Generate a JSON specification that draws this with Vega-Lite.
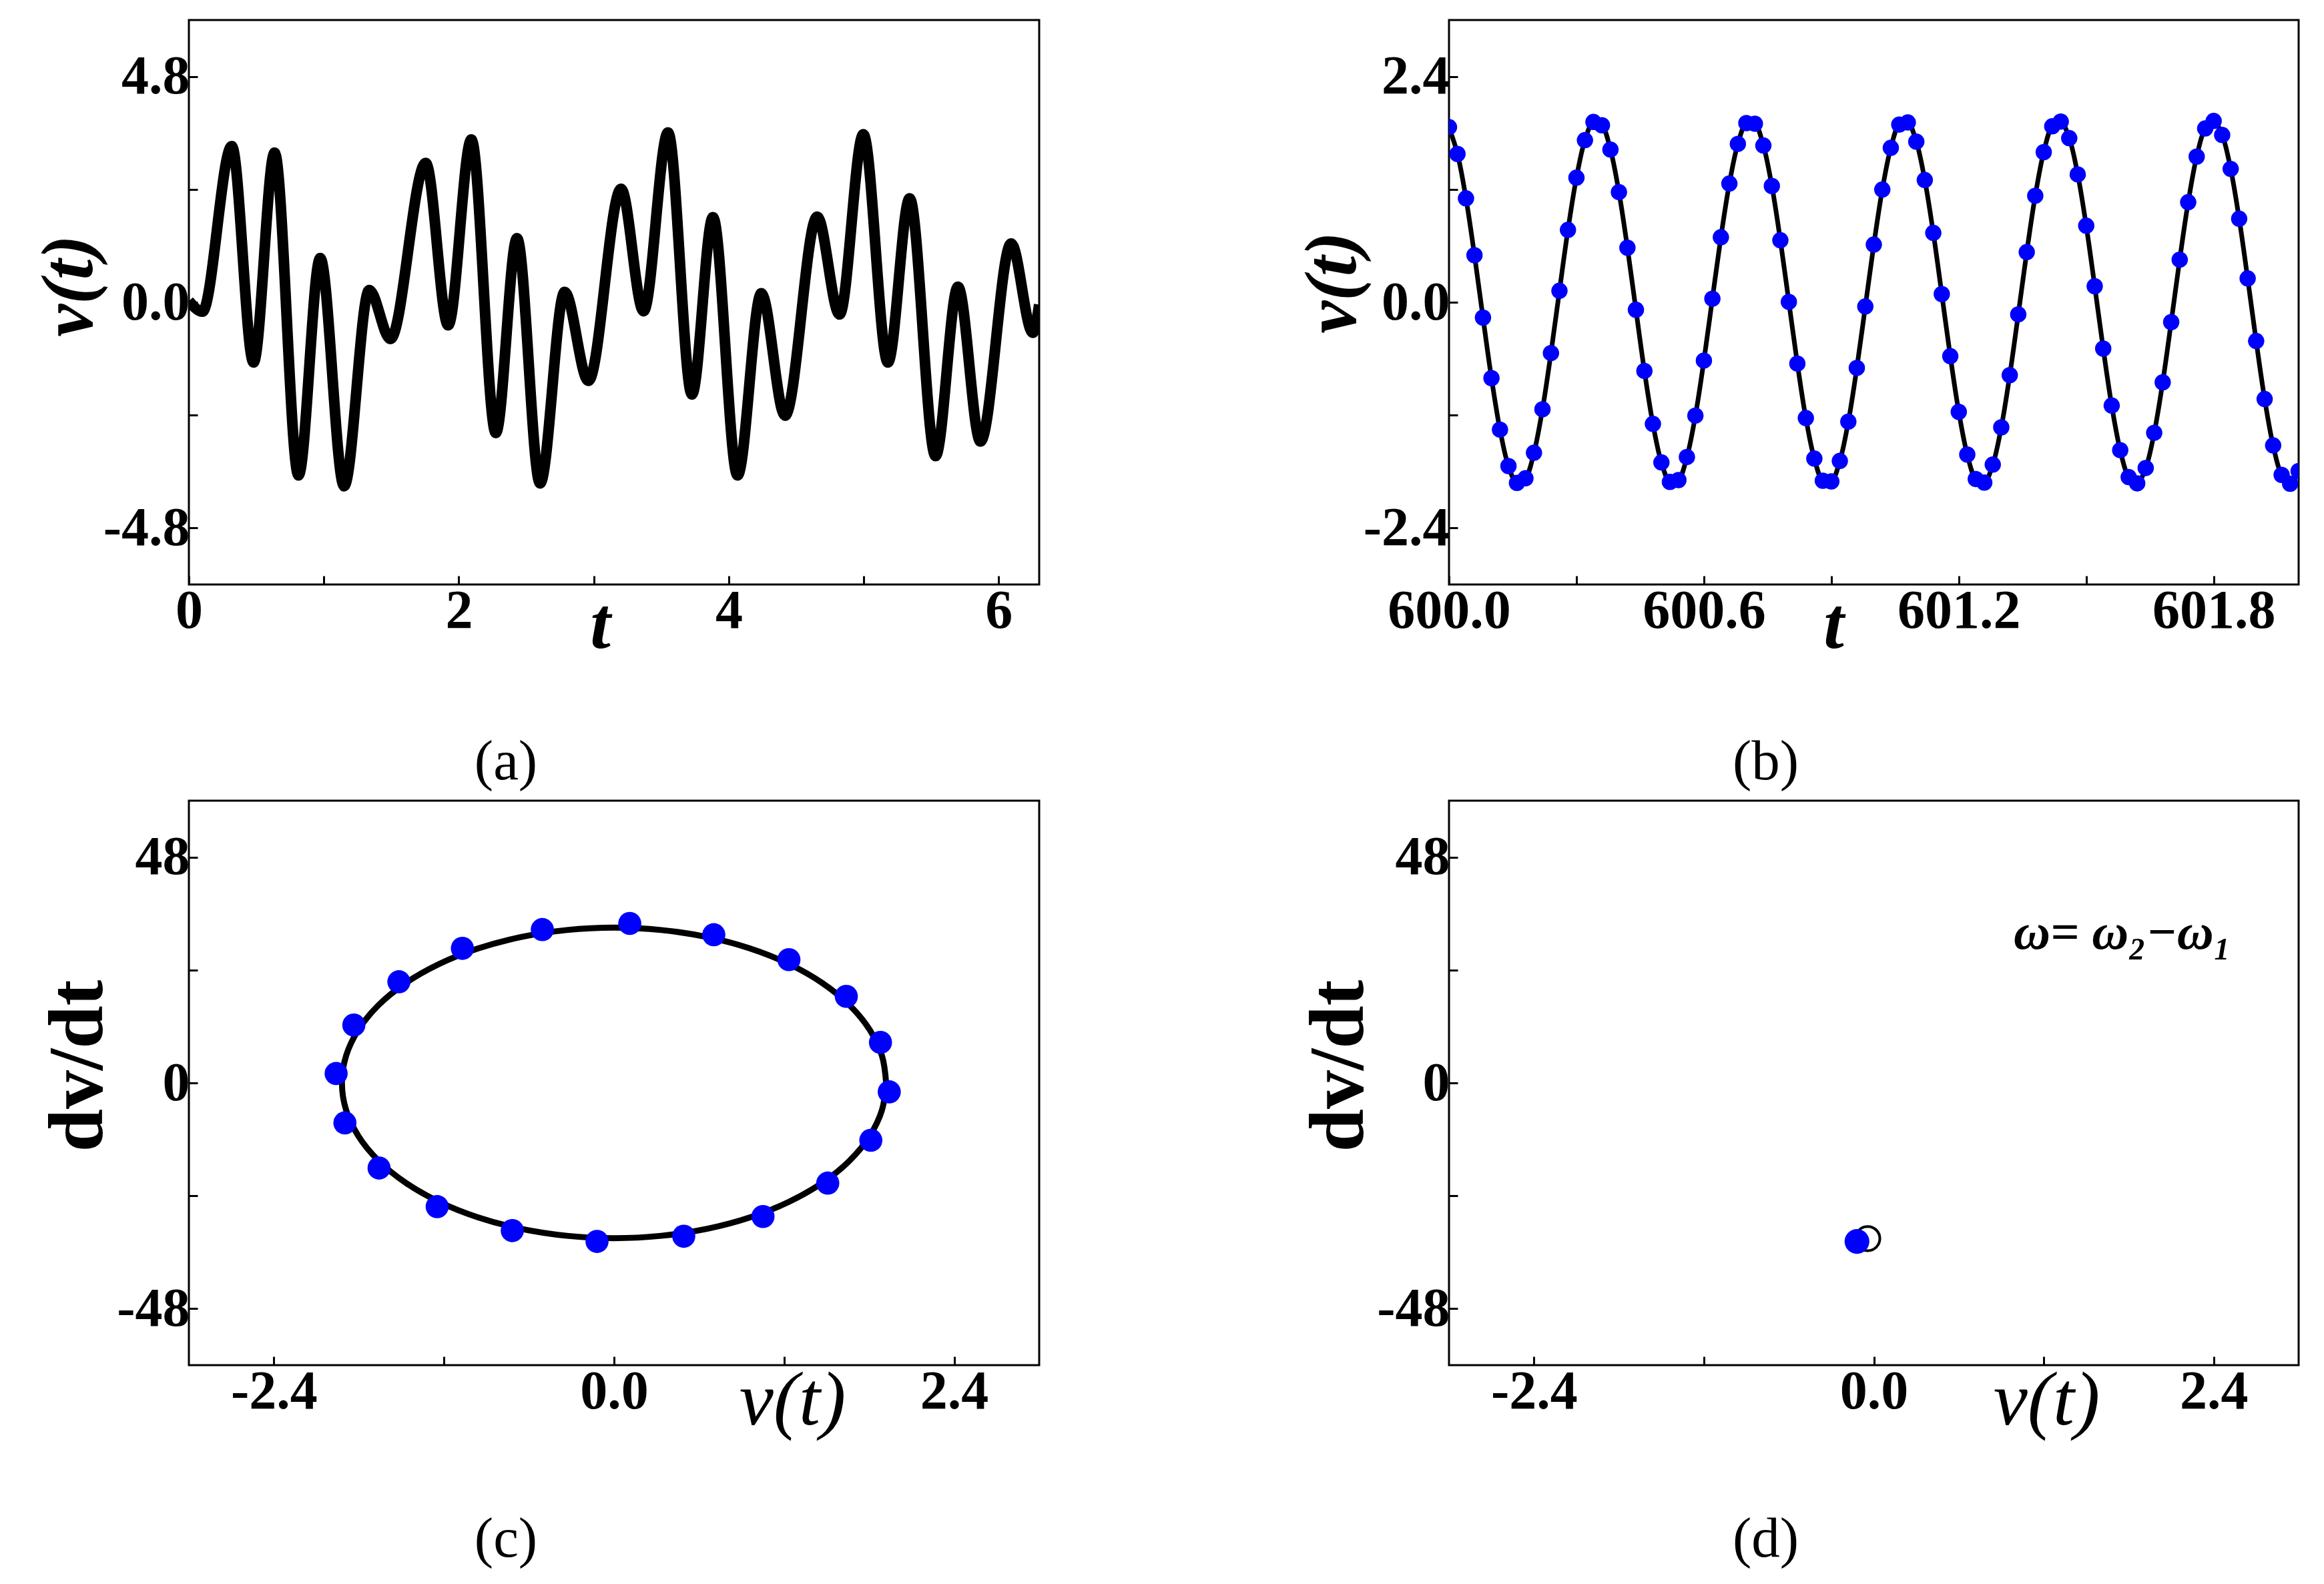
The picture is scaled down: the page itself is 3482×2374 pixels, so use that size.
{
  "$schema": "https://vega.github.io/schema/vega-lite/v6.json",
  "autosize": {"type": "none"},
  "padding": {"left": 283, "top": 30, "right": 3199, "bottom": 2344},
  "background": "white",
  "columns": 2,
  "spacing": {"row": 324, "column": 614},
  "bounds": "flush",
  "config": {
    "view": {"stroke": "black", "strokeWidth": 3},
    "font": "Liberation Serif",
    "axis": {
      "domain": false, "grid": false, "ticks": true, "tickColor": "black", "tickWidth": 3, "tickSize": -13,
      "labelFont": "Liberation Serif", "labelFontWeight": "bold", "labelFontSize": 82, "labelColor": "black",
      "labelPadding": 12, "labelFlush": false, "labelOverlap": false, "labelBound": false, "labelLimit": 1000,
      "titleColor": "black", "titleFont": "Liberation Serif", "titleLimit": 1000
    },
    "title": {"font": "Liberation Serif", "fontSize": 85, "fontWeight": "normal", "color": "black"}
  },
  "datasets": {
    "a": [
      {"t": 0, "v": 0.03}, {"t": 0.1, "v": -0.2}, {"t": 0.318, "v": 3.32}, {"t": 0.479, "v": -1.28},
      {"t": 0.635, "v": 3.18}, {"t": 0.812, "v": -3.68}, {"t": 0.973, "v": 0.94}, {"t": 1.15, "v": -3.91},
      {"t": 1.336, "v": 0.26}, {"t": 1.493, "v": -0.78}, {"t": 1.755, "v": 2.96}, {"t": 1.921, "v": -0.49},
      {"t": 2.093, "v": 3.46}, {"t": 2.274, "v": -2.78}, {"t": 2.431, "v": 1.36}, {"t": 2.602, "v": -3.85},
      {"t": 2.784, "v": 0.22}, {"t": 2.96, "v": -1.67}, {"t": 3.202, "v": 2.41}, {"t": 3.369, "v": -0.19},
      {"t": 3.55, "v": 3.61}, {"t": 3.727, "v": -1.96}, {"t": 3.883, "v": 1.81}, {"t": 4.065, "v": -3.68},
      {"t": 4.241, "v": 0.19}, {"t": 4.417, "v": -2.41}, {"t": 4.655, "v": 1.82}, {"t": 4.821, "v": -0.26},
      {"t": 4.997, "v": 3.57}, {"t": 5.179, "v": -1.28}, {"t": 5.34, "v": 2.21}, {"t": 5.532, "v": -3.27},
      {"t": 5.698, "v": 0.33}, {"t": 5.865, "v": -2.96}, {"t": 6.092, "v": 1.25}, {"t": 6.253, "v": -0.65},
      {"t": 6.3, "v": -0.05}
    ],
    "b": [
      {"t": 600.00, "v": 1.861}, {"t": 600.02, "v": 1.576}, {"t": 600.04, "v": 1.104}, {"t": 600.06, "v": 0.500},
      {"t": 600.08, "v": -0.163}, {"t": 600.10, "v": -0.807}, {"t": 600.12, "v": -1.354}, {"t": 600.14, "v": -1.741},
      {"t": 600.16, "v": -1.921}, {"t": 600.18, "v": -1.871}, {"t": 600.20, "v": -1.600}, {"t": 600.22, "v": -1.138},
      {"t": 600.24, "v": -0.540}, {"t": 600.26, "v": 0.122}, {"t": 600.28, "v": 0.769}, {"t": 600.30, "v": 1.324},
      {"t": 600.32, "v": 1.723}, {"t": 600.34, "v": 1.916}, {"t": 600.36, "v": 1.881}, {"t": 600.38, "v": 1.623},
      {"t": 600.40, "v": 1.171}, {"t": 600.42, "v": 0.580}, {"t": 600.44, "v": -0.080}, {"t": 600.46, "v": -0.730},
      {"t": 600.48, "v": -1.293}, {"t": 600.50, "v": -1.703}, {"t": 600.52, "v": -1.910}, {"t": 600.54, "v": -1.890},
      {"t": 600.56, "v": -1.645}, {"t": 600.58, "v": -1.205}, {"t": 600.60, "v": -0.620}, {"t": 600.62, "v": 0.038},
      {"t": 600.64, "v": 0.691}, {"t": 600.66, "v": 1.262}, {"t": 600.68, "v": 1.683}, {"t": 600.70, "v": 1.904},
      {"t": 600.72, "v": 1.898}, {"t": 600.74, "v": 1.666}, {"t": 600.76, "v": 1.236}, {"t": 600.78, "v": 0.659},
      {"t": 600.80, "v": 0.004}, {"t": 600.82, "v": -0.652}, {"t": 600.84, "v": -1.231}, {"t": 600.86, "v": -1.662},
      {"t": 600.88, "v": -1.897}, {"t": 600.90, "v": -1.905}, {"t": 600.92, "v": -1.687}, {"t": 600.94, "v": -1.269},
      {"t": 600.96, "v": -0.698}, {"t": 600.98, "v": -0.045}, {"t": 601.00, "v": 0.613}, {"t": 601.02, "v": 1.198},
      {"t": 601.04, "v": 1.641}, {"t": 601.06, "v": 1.889}, {"t": 601.08, "v": 1.911}, {"t": 601.10, "v": 1.707},
      {"t": 601.12, "v": 1.299}, {"t": 601.14, "v": 0.737}, {"t": 601.16, "v": 0.087}, {"t": 601.18, "v": -0.573},
      {"t": 601.20, "v": -1.165}, {"t": 601.22, "v": -1.619}, {"t": 601.24, "v": -1.879}, {"t": 601.26, "v": -1.917},
      {"t": 601.28, "v": -1.726}, {"t": 601.30, "v": -1.330}, {"t": 601.32, "v": -0.775}, {"t": 601.34, "v": -0.129},
      {"t": 601.36, "v": 0.533}, {"t": 601.38, "v": 1.132}, {"t": 601.40, "v": 1.596}, {"t": 601.42, "v": 1.870},
      {"t": 601.44, "v": 1.921}, {"t": 601.46, "v": 1.744}, {"t": 601.48, "v": 1.359}, {"t": 601.50, "v": 0.813},
      {"t": 601.52, "v": 0.170}, {"t": 601.54, "v": -0.493}, {"t": 601.56, "v": -1.098}, {"t": 601.58, "v": -1.572},
      {"t": 601.60, "v": -1.859}, {"t": 601.62, "v": -1.925}, {"t": 601.64, "v": -1.762}, {"t": 601.66, "v": -1.388},
      {"t": 601.68, "v": -0.851}, {"t": 601.70, "v": -0.211}, {"t": 601.72, "v": 0.453}, {"t": 601.74, "v": 1.063},
      {"t": 601.76, "v": 1.548}, {"t": 601.78, "v": 1.847}, {"t": 601.80, "v": 1.927}, {"t": 601.82, "v": 1.778},
      {"t": 601.84, "v": 1.417}, {"t": 601.86, "v": 0.888}, {"t": 601.88, "v": 0.253}, {"t": 601.90, "v": -0.412},
      {"t": 601.92, "v": -1.029}, {"t": 601.94, "v": -1.522}, {"t": 601.96, "v": -1.835}, {"t": 601.98, "v": -1.929},
      {"t": 602.00, "v": -1.794}
    ],
    "ell": [
      {"i": 0, "v": 1.920, "dv": 0}, {"i": 1, "v": 1.891, "dv": 5.73}, {"i": 2, "v": 1.804, "dv": 11.29},
      {"i": 3, "v": 1.663, "dv": 16.50}, {"i": 4, "v": 1.471, "dv": 21.21}, {"i": 5, "v": 1.234, "dv": 25.28},
      {"i": 6, "v": 0.960, "dv": 28.58}, {"i": 7, "v": 0.657, "dv": 31.01}, {"i": 8, "v": 0.333, "dv": 32.50},
      {"i": 9, "v": 0, "dv": 33.0}, {"i": 10, "v": -0.333, "dv": 32.50}, {"i": 11, "v": -0.657, "dv": 31.01},
      {"i": 12, "v": -0.960, "dv": 28.58}, {"i": 13, "v": -1.234, "dv": 25.28}, {"i": 14, "v": -1.471, "dv": 21.21},
      {"i": 15, "v": -1.663, "dv": 16.50}, {"i": 16, "v": -1.804, "dv": 11.29}, {"i": 17, "v": -1.891, "dv": 5.73},
      {"i": 18, "v": -1.920, "dv": 0}, {"i": 19, "v": -1.891, "dv": -5.73}, {"i": 20, "v": -1.804, "dv": -11.29},
      {"i": 21, "v": -1.663, "dv": -16.50}, {"i": 22, "v": -1.471, "dv": -21.21}, {"i": 23, "v": -1.234, "dv": -25.28},
      {"i": 24, "v": -0.960, "dv": -28.58}, {"i": 25, "v": -0.657, "dv": -31.01}, {"i": 26, "v": -0.333, "dv": -32.50},
      {"i": 27, "v": 0, "dv": -33.0}, {"i": 28, "v": 0.333, "dv": -32.50}, {"i": 29, "v": 0.657, "dv": -31.01},
      {"i": 30, "v": 0.960, "dv": -28.58}, {"i": 31, "v": 1.234, "dv": -25.28}, {"i": 32, "v": 1.471, "dv": -21.21},
      {"i": 33, "v": 1.663, "dv": -16.50}, {"i": 34, "v": 1.804, "dv": -11.29}, {"i": 35, "v": 1.891, "dv": -5.73},
      {"i": 36, "v": 1.920, "dv": 0}
    ],
    "cdots": [
      {"v": 0.111, "dv": 33.9}, {"v": 0.704, "dv": 31.5}, {"v": 1.234, "dv": 26.2}, {"v": 1.639, "dv": 18.4},
      {"v": 1.880, "dv": 8.6}, {"v": 1.942, "dv": -1.9}, {"v": 1.812, "dv": -12.2}, {"v": 1.508, "dv": -21.3},
      {"v": 1.051, "dv": -28.4}, {"v": 0.492, "dv": -32.6}, {"v": -0.120, "dv": -33.7}, {"v": -0.718, "dv": -31.4},
      {"v": -1.248, "dv": -26.3}, {"v": -1.658, "dv": -18.1}, {"v": -1.899, "dv": -8.5}, {"v": -1.961, "dv": 2.0},
      {"v": -1.836, "dv": 12.3}, {"v": -1.518, "dv": 21.5}, {"v": -1.070, "dv": 28.6}, {"v": -0.506, "dv": 32.6}
    ],
    "dring": [{"v": -0.043, "dv": -33.1}],
    "ddot": [{"v": -0.119, "dv": -33.7}]
  },
  "concat": [
    {
      "width": 1274, "height": 846,
      "title": {"text": "(a)", "orient": "bottom", "anchor": "middle", "dx": -162, "offset": 150, "baseline": "middle"},
      "data": {"name": "a"},
      "mark": {"type": "line", "color": "black", "strokeWidth": 16, "interpolate": "monotone", "clip": true, "strokeJoin": "round"},
      "encoding": {
        "x": {"field": "t", "type": "quantitative", "scale": {"domain": [0, 6.3], "nice": false, "zero": false},
          "axis": {"values": [0, 1, 2, 3, 4, 5, 6], "format": "d", "labelExpr": "datum.value % 2 == 0 ? datum.label : ''",
            "title": "t", "titleFontSize": 110, "titleFontWeight": "bold", "titleFontStyle": "italic",
            "titleX": 616, "titleY": 94, "titleAlign": "center", "titleBaseline": "alphabetic", "titleAngle": 0}},
        "y": {"field": "v", "type": "quantitative", "scale": {"domain": [-6, 6], "nice": false, "zero": false},
          "axis": {"values": [-4.8, -2.4, 0, 2.4, 4.8], "format": ".1f", "labelExpr": "abs(datum.value) < 1 || abs(datum.value) > 4 ? replace(datum.label, '\u2212', '-') : ''",
            "title": "v(t)", "titleFontSize": 110, "titleFontWeight": "bold", "titleFontStyle": "italic",
            "titleX": -179, "titleY": 398, "titleAlign": "center", "titleBaseline": "middle", "titleAngle": -90}}
      }
    },
    {
      "width": 1273, "height": 846,
      "title": {"text": "(b)", "orient": "bottom", "anchor": "middle", "dx": -162, "offset": 150, "baseline": "middle"},
      "data": {"name": "b"},
      "encoding": {
        "x": {"field": "t", "type": "quantitative", "scale": {"domain": [600, 602], "nice": false, "zero": false},
          "axis": {"values": [600, 600.3, 600.6, 600.9, 601.2, 601.5, 601.8], "format": ".1f", "labelExpr": "round(datum.value * 10) % 6 == 0 ? datum.label : ''",
            "title": "t", "titleFontSize": 110, "titleFontWeight": "bold", "titleFontStyle": "italic",
            "titleX": 576, "titleY": 94, "titleAlign": "center", "titleBaseline": "alphabetic", "titleAngle": 0}},
        "y": {"field": "v", "type": "quantitative", "scale": {"domain": [-3, 3], "nice": false, "zero": false},
          "axis": {"values": [-2.4, -1.2, 0, 1.2, 2.4], "format": ".1f", "labelExpr": "abs(datum.value) < 0.5 || abs(datum.value) > 2 ? replace(datum.label, '\u2212', '-') : ''",
            "title": "v(t)", "titleFontSize": 110, "titleFontWeight": "bold", "titleFontStyle": "italic",
            "titleX": -174, "titleY": 393, "titleAlign": "center", "titleBaseline": "middle", "titleAngle": -90}}
      },
      "layer": [
        {"mark": {"type": "line", "color": "black", "strokeWidth": 7, "interpolate": "catmull-rom", "clip": true}},
        {"mark": {"type": "point", "shape": "circle", "filled": true, "color": "#0000ff", "opacity": 1, "size": 600, "clip": true}}
      ]
    },
    {
      "width": 1274, "height": 846,
      "title": {"text": "(c)", "orient": "bottom", "anchor": "middle", "dx": -162, "offset": 150, "baseline": "middle"},
      "encoding": {
        "x": {"field": "v", "type": "quantitative", "scale": {"domain": [-3, 3], "nice": false, "zero": false},
          "axis": {"values": [-2.4, -1.2, 0, 1.2, 2.4], "format": ".1f", "labelExpr": "abs(datum.value) < 0.5 || abs(datum.value) > 2 ? replace(datum.label, '\u2212', '-') : ''",
            "title": "v(t)", "titleFontSize": 115, "titleFontWeight": "normal", "titleFontStyle": "italic",
            "titleX": 904, "titleY": 88, "titleAlign": "center", "titleBaseline": "alphabetic", "titleAngle": 0}},
        "y": {"field": "dv", "type": "quantitative", "scale": {"domain": [-60, 60], "nice": false, "zero": false},
          "axis": {"values": [-48, -24, 0, 24, 48], "format": "d", "labelExpr": "abs(datum.value) < 1 || abs(datum.value) > 40 ? replace(datum.label, '\u2212', '-') : ''",
            "title": "dv/dt", "titleFontSize": 116, "titleFontWeight": "bold", "titleFontStyle": "normal",
            "titleX": -166, "titleY": 397, "titleAlign": "center", "titleBaseline": "middle", "titleAngle": -90}}
      },
      "layer": [
        {"data": {"name": "ell"},
         "mark": {"type": "line", "color": "black", "strokeWidth": 9, "interpolate": "catmull-rom", "clip": true},
         "encoding": {"order": {"field": "i", "type": "quantitative"}}},
        {"data": {"name": "cdots"},
         "mark": {"type": "point", "shape": "circle", "filled": true, "color": "#0000ff", "opacity": 1, "size": 1200, "clip": true}}
      ]
    },
    {
      "width": 1273, "height": 846,
      "title": {"text": "(d)", "orient": "bottom", "anchor": "middle", "dx": -162, "offset": 150, "baseline": "middle"},
      "encoding": {
        "x": {"field": "v", "type": "quantitative", "scale": {"domain": [-3, 3], "nice": false, "zero": false},
          "axis": {"values": [-2.4, -1.2, 0, 1.2, 2.4], "format": ".1f", "labelExpr": "abs(datum.value) < 0.5 || abs(datum.value) > 2 ? replace(datum.label, '\u2212', '-') : ''",
            "title": "v(t)", "titleFontSize": 115, "titleFontWeight": "normal", "titleFontStyle": "italic",
            "titleX": 895, "titleY": 88, "titleAlign": "center", "titleBaseline": "alphabetic", "titleAngle": 0}},
        "y": {"field": "dv", "type": "quantitative", "scale": {"domain": [-60, 60], "nice": false, "zero": false},
          "axis": {"values": [-48, -24, 0, 24, 48], "format": "d", "labelExpr": "abs(datum.value) < 1 || abs(datum.value) > 40 ? replace(datum.label, '\u2212', '-') : ''",
            "title": "dv/dt", "titleFontSize": 116, "titleFontWeight": "bold", "titleFontStyle": "normal",
            "titleX": -165, "titleY": 397, "titleAlign": "center", "titleBaseline": "middle", "titleAngle": -90}}
      },
      "layer": [
        {"data": {"name": "dring"},
         "mark": {"type": "point", "shape": "circle", "filled": false, "stroke": "black", "strokeWidth": 4, "opacity": 1, "size": 1320, "clip": true}},
        {"data": {"name": "ddot"},
         "mark": {"type": "point", "shape": "circle", "filled": true, "color": "#0000ff", "opacity": 1, "size": 1380, "clip": true}},
        {"data": {"name": "ddot"},
         "mark": {"type": "text", "text": "ω= ω₂−ω₁", "font": "Liberation Serif", "fontSize": 76, "fontWeight": "bold", "fontStyle": "italic", "align": "center", "baseline": "alphabetic", "color": "black"},
         "encoding": {"x": {"datum": 1.756, "type": "quantitative"}, "y": {"datum": 28.5, "type": "quantitative"}}}
      ]
    }
  ]
}
